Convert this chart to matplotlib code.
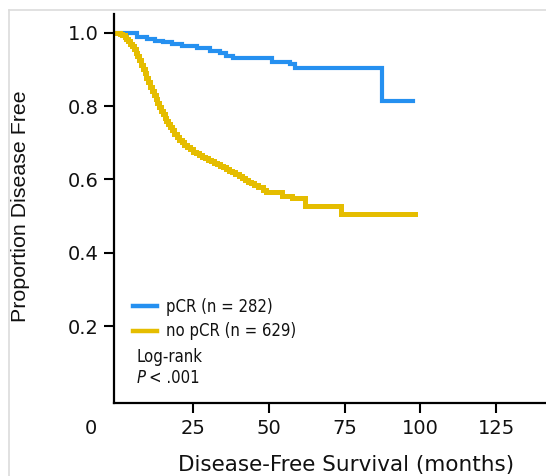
import matplotlib
matplotlib.use("Agg")
import matplotlib.pyplot as plt
from matplotlib import font_manager
from matplotlib.font_manager import FontProperties
from matplotlib.lines import Line2D

# ---------------- data ----------------
pcr_label = "pCR (n = 282)"
nopcr_label = "no pCR (n = 629)"

pcr_t = [0, 6.4, 9.7, 12.5, 15.2, 18, 21.2, 26.2, 30.6, 33.9, 35.9, 38.3, 51, 57, 58.6, 87.3, 97.7]
pcr_s = [1.0, 0.989, 0.982, 0.978, 0.975, 0.969, 0.964, 0.957, 0.951, 0.944, 0.936, 0.930,
         0.921, 0.914, 0.905, 0.814, 0.814]

nopcr_t = [0, 0.8, 1.6, 2.4, 3.0, 3.6, 4.2, 4.8, 5.4, 6.0, 6.6, 7.2, 7.8, 8.4, 9.0, 9.6,
           10.2, 10.8, 11.4, 12.0, 12.6, 13.2, 13.8, 14.4, 15.0, 15.6, 16.2, 16.8, 17.4,
           18.0, 18.8, 19.6, 20.4, 21.2, 22.0, 23.0, 24.0, 25.0, 26.0, 27.0, 28.0, 29.0,
           30.0, 31.0, 32.0, 33.0, 34.0, 35.0, 36.0, 37.0, 38.0, 39.0, 40.0, 41.0, 42.0,
           43.0, 44.0, 45.0, 46.5, 48.0, 49.0, 54.3, 57.6, 62.0, 73.7, 98.3]
nopcr_s = [1.0, 0.997, 0.993, 0.988, 0.983, 0.977, 0.970, 0.963, 0.955, 0.946, 0.936,
           0.925, 0.913, 0.901, 0.889, 0.877, 0.865, 0.853, 0.841, 0.830, 0.819, 0.808,
           0.797, 0.787, 0.777, 0.768, 0.759, 0.750, 0.742, 0.734, 0.725, 0.716, 0.708,
           0.701, 0.695, 0.688, 0.682, 0.676, 0.671, 0.666, 0.661, 0.657, 0.653, 0.649,
           0.645, 0.641, 0.637, 0.633, 0.629, 0.624, 0.619, 0.614, 0.609, 0.604, 0.599,
           0.594, 0.589, 0.584, 0.578, 0.571, 0.566, 0.555, 0.548, 0.527, 0.505, 0.505]

x_ticks = [25, 50, 75, 100, 125]
y_ticks = [0.2, 0.4, 0.6, 0.8, 1.0]
y_ticklabels = ["0.2", "0.4", "0.6", "0.8", "1.0"]

# ---------------- fonts ----------------
ttf = font_manager.fontManager.ttflist
names = {f.name for f in ttf}
arial_like = "Liberation Sans" if "Liberation Sans" in names else "DejaVu Sans"

cond_path = None
for pref in ("LiberationSansNarrow-Regular", "DejaVuSansCondensed.", "DejaVuSansCondensed"):
    for f in ttf:
        base = f.fname.split("/")[-1]
        if base.startswith(pref) and "Bold" not in base and "Oblique" not in base:
            cond_path = f.fname
            break
    if cond_path:
        break
cond_it_path = None
if cond_path:
    for f in ttf:
        base = f.fname.split("/")[-1]
        if ("Narrow" in base or "Condensed" in base) and ("Italic" in base or "Oblique" in base) \
                and "Bold" not in base and base[:8] == cond_path.split("/")[-1][:8]:
            cond_it_path = f.fname
            break

LEG_SIZE = 12
if cond_path:
    cond_fp = FontProperties(fname=cond_path, size=LEG_SIZE)
else:
    cond_fp = FontProperties(family="DejaVu Sans", size=LEG_SIZE - 1)
if cond_it_path:
    cond_it_fp = FontProperties(fname=cond_it_path, size=LEG_SIZE)
else:
    cond_it_fp = cond_fp.copy()
    cond_it_fp.set_style("italic")

plt.rcParams["font.family"] = ["DejaVu Sans"]

BLUE = "#2590f0"
YELLOW = "#e5bd00"

W, H = 546, 476
fig = plt.figure(figsize=(W / 100, H / 100), dpi=100)
ax = fig.add_axes([114.3 / W, 1 - 402.7 / H, 1 - 114.3 / W, (402.7 - 14) / H])

ax.plot(pcr_t, pcr_s, drawstyle="steps-post", color=BLUE, lw=3.0, label=pcr_label,
        solid_joinstyle="miter")
ax.plot(nopcr_t, nopcr_s, drawstyle="steps-post", color=YELLOW, lw=3.6, label=nopcr_label,
        solid_joinstyle="miter")

ax.set_xlim(-1, 141.5)
ax.set_ylim(-0.009, 1.051)
ax.set_xticks(x_ticks)
ax.set_yticks(y_ticks)
ax.set_yticklabels(y_ticklabels)
for s in ("top", "right"):
    ax.spines[s].set_visible(False)
for s in ("left", "bottom"):
    ax.spines[s].set_linewidth(1.6)
ax.tick_params(axis="both", direction="out", length=7, width=1.5, labelsize=14,
               labelcolor="#111111")
ax.tick_params(axis="x", pad=5)
ax.tick_params(axis="y", pad=4)

# stray "0" origin label
fig.text(90.7 / W, 1 - 428 / H, "0", ha="center", va="center", fontsize=14, color="#111111")

ax.set_ylabel("Proportion Disease Free", fontsize=15.4, family=[arial_like, "DejaVu Sans"],
              color="#111111")
ax.yaxis.set_label_coords((30.5 - 114.3) / (W - 114.3), (402.7 - 206) / (402.7 - 14))
fig.text(346 / W, 1 - 471 / H, "Disease-Free Survival (months)", ha="center", va="baseline",
         fontsize=15.5, color="#111111")

leg = ax.legend(loc="upper left",
                bbox_to_anchor=((133 - 114.3) / (W - 114.3), (402.7 - 297.5) / (402.7 - 14)),
                frameon=False, handlelength=1.45, handletextpad=0.55, borderaxespad=0,
                borderpad=0, labelspacing=0.42, prop=cond_fp)
for h in leg.legend_handles:
    h.set_linewidth(3.2)
for t in leg.get_texts():
    t.set_color("#111111")

fig.text(136.7 / W, 1 - 356.7 / H, "Log-rank", ha="left", va="center",
         fontproperties=cond_fp, color="#111111")
p_txt = fig.text(136.7 / W, 1 - 378 / H, "P", ha="left", va="center",
                 fontproperties=cond_it_fp, color="#111111")
fig.canvas.draw()
bb = p_txt.get_window_extent()
fig.text((bb.x1 + 3) / W, 1 - 378 / H, "< .001", ha="left", va="center",
         fontproperties=cond_fp, color="#111111")

# light frame around the image
fig.add_artist(Line2D([8.5 / W, 8.5 / W], [0, 1 - 10 / H], transform=fig.transFigure,
                      color="#dcdcdc", lw=1.2))
fig.add_artist(Line2D([8.5 / W, 1], [1 - 10 / H, 1 - 10 / H], transform=fig.transFigure,
                      color="#dcdcdc", lw=1.2))

fig.savefig("out.png", dpi=100)
